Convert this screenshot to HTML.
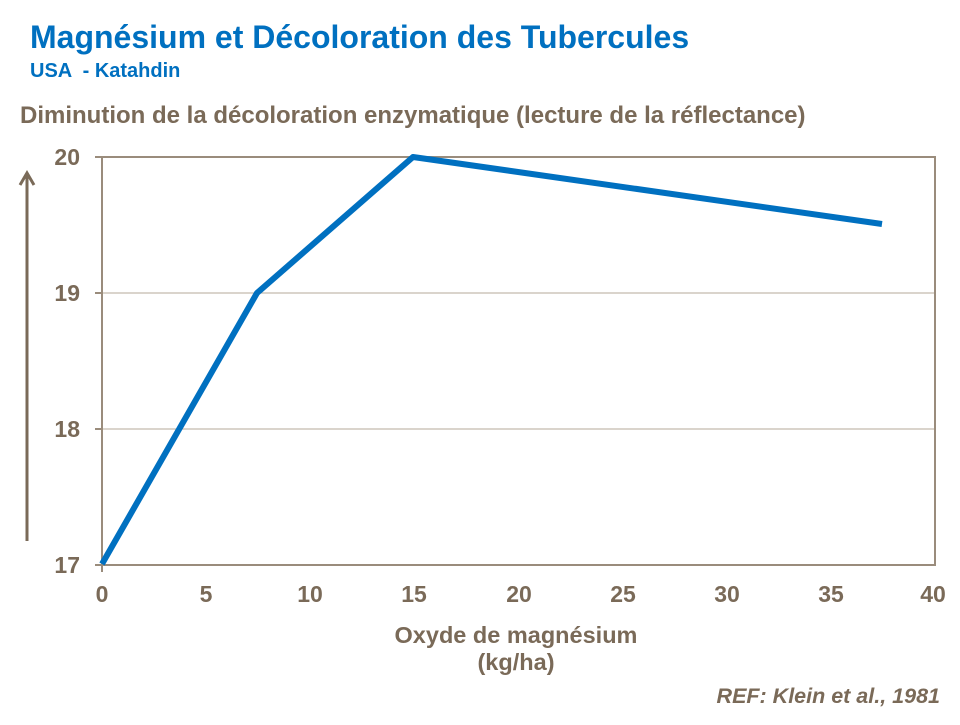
<!DOCTYPE html>
<html><head><meta charset="utf-8"><style>
body{margin:0;width:960px;height:720px;background:#fff;overflow:hidden;font-family:"Liberation Sans",sans-serif}
</style></head><body>
<svg width="960" height="720" xmlns="http://www.w3.org/2000/svg" font-family="Liberation Sans, sans-serif">
<text x="30" y="48" font-size="32" font-weight="bold" fill="#0070C0">Magnésium et Décoloration des Tubercules</text>
<text x="30" y="77" font-size="20" font-weight="bold" fill="#0070C0" style="white-space:pre">USA  - Katahdin</text>
<text x="20" y="123" font-size="24" font-weight="bold" fill="#7A6A58">Diminution de la décoloration enzymatique (lecture de la réflectance)</text>
<g stroke="#B5A898" stroke-width="1">
<line x1="102" y1="293" x2="935" y2="293"/>
<line x1="102" y1="429" x2="935" y2="429"/>
</g>
<rect x="102" y="157" width="833" height="408" fill="none" stroke="#9A8C7C" stroke-width="2"/>
<g stroke="#9A8C7C" stroke-width="2">
<line x1="95" y1="157" x2="102" y2="157"/><line x1="95" y1="293" x2="102" y2="293"/>
<line x1="95" y1="429" x2="102" y2="429"/><line x1="95" y1="565" x2="102" y2="565"/>
<line x1="102" y1="565" x2="102" y2="572"/>
</g>
<g font-size="23" font-weight="bold" fill="#7A6A58" text-anchor="end">
<text x="80" y="165">20</text><text x="80" y="301">19</text><text x="80" y="437">18</text><text x="80" y="573">17</text>
</g>
<g font-size="23" font-weight="bold" fill="#7A6A58" text-anchor="middle">
<text x="102" y="602">0</text><text x="206" y="602">5</text><text x="310" y="602">10</text><text x="414" y="602">15</text>
<text x="519" y="602">20</text><text x="623" y="602">25</text><text x="727" y="602">30</text><text x="831" y="602">35</text><text x="933" y="602">40</text>
</g>
<g font-size="23.5" font-weight="bold" fill="#7A6A58" text-anchor="middle">
<text x="516" y="643">Oxyde de magnésium</text><text x="516" y="670">(kg/ha)</text>
</g>
<text x="940" y="703" font-size="21.5" font-weight="bold" font-style="italic" fill="#7A6A58" text-anchor="end">REF: Klein et al., 1981</text>
<line x1="27" y1="541" x2="27" y2="175" stroke="#7A6A58" stroke-width="3"/>
<polyline points="20,185 27,173 34,185" fill="none" stroke="#7A6A58" stroke-width="3"/>
<polyline points="102,564 257,293 413,157 882,224" fill="none" stroke="#0070C0" stroke-width="6" stroke-linejoin="round"/>
</svg>
</body></html>
